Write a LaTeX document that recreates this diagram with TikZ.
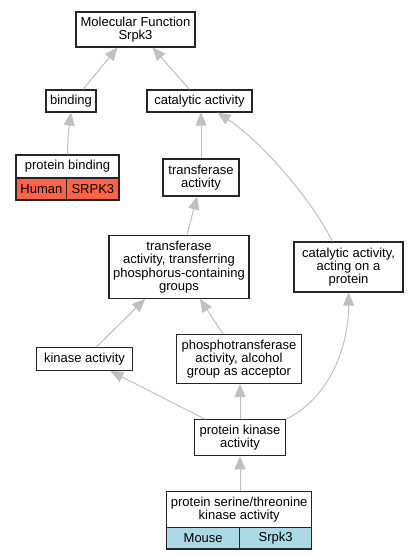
\documentclass[tikz,border=0pt]{standalone}
\usepackage{fontspec}
\setmainfont{Liberation Sans}
\usetikzlibrary{arrows.meta}
\definecolor{edgegray}{HTML}{C0C0C0}
\definecolor{human}{HTML}{FF6347}
\definecolor{mouse}{HTML}{ADD8E6}
\tikzset{
  term/.style={draw=black!85, line width=1.1pt, fill=white, align=center, inner sep=0pt,
    font=\fontsize{13}{13.3}\selectfont},
  cell/.style={term},
  isa/.style={draw=edgegray, line width=1pt,
    -{Triangle[length=13pt,width=11pt,fill=edgegray]}}
}
\begin{document}
\begin{tikzpicture}[x=1pt,y=-1pt]
  \useasboundingbox[fill=white] (0,0) rectangle (417,560);
  % terms
  \node[term, minimum width=119, minimum height=35] (mf) at (135.5,29.5) {Molecular Function\\Srpk3};
  \node[term, minimum width=50, minimum height=22] (bind) at (71,101) {binding};
  \node[term, minimum width=105, minimum height=22] (cat) at (199.5,101) {catalytic activity};
  \node[term, minimum width=103, minimum height=23] (pb) at (67.5,166.5) {protein binding};
  \node[cell, fill=human, minimum width=50.7, minimum height=22] (pbhuman) at (41.35,189) {Human};
  \node[cell, fill=human, minimum width=52.3, minimum height=22] (pbgene) at (92.85,189) {SRPK3};
  \node[term, minimum width=76, minimum height=37] (tra) at (201,177.5) {transferase\\activity};
  \node[term, minimum width=140, minimum height=63] (trp) at (179,267) {transferase\\activity, transferring\\phosphorus-containing\\groups};
  \node[term, minimum width=109, minimum height=50] (cap) at (348.5,267) {catalytic activity,\\acting on a\\protein};
  \node[term, minimum width=96, minimum height=23] (kin) at (84.5,359) {kinase activity};
  \node[term, minimum width=125, minimum height=49] (pho) at (239,359) {phosphotransferase\\activity, alcohol\\group as acceptor};
  \node[term, minimum width=91, minimum height=36] (pk) at (240,437.7) {protein kinase\\activity};
  \node[term, minimum width=145, minimum height=36] (pst) at (239.2,509.7) {protein serine/threonine\\kinase activity};
  \node[cell, fill=mouse, minimum width=73, minimum height=21.3] (pstmouse) at (203.2,538.35) {Mouse};
  \node[cell, fill=mouse, minimum width=72, minimum height=21.3] (pstgene) at (275.7,538.35) {Srpk3};
  % is_a edges
  \draw[isa] (bind.north)+(12,0) -- ([xshift=-18pt]mf.south);
  \draw[isa] (cat.north)+(-10,0) -- ([xshift=17pt]mf.south);
  \draw[isa] (pb.north) .. controls (68,135) .. (bind.south);
  \draw[isa] (tra.north) -- (cat.south-|tra.north);
  \draw[isa] (cap.north)+(-16,0) .. controls (312,200) and (262,142) .. ([xshift=18pt]cat.south);
  \draw[isa] (trp.north)+(8,0) -- ([xshift=-4pt]tra.south);
  \draw[isa] (kin.north)+(12,0) -- ([xshift=-34pt]trp.south);
  \draw[isa] (pho.north)+(-16,0) -- ([xshift=21pt]trp.south);
  \draw[isa] (pk.north)+(-35,0) -- ([xshift=26pt]kin.south);
  \draw[isa] (pk.north) -- (pho.south-|pk.north);
  \draw[isa] (pk.north east) .. controls (330,398) and (349,345) .. (cap.south);
  \draw[isa] (pst.north-|pk.north) -- (pk.south);
\end{tikzpicture}
\end{document}
